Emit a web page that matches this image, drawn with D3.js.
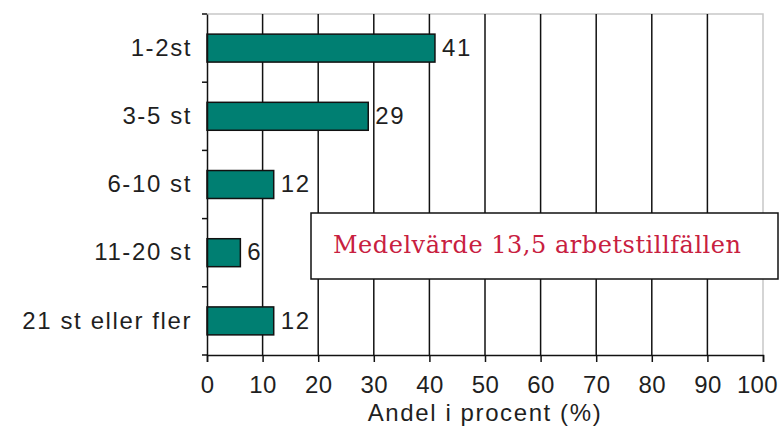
<!DOCTYPE html>
<html>
<head>
<meta charset="utf-8">
<script src="https://cdn.jsdelivr.net/npm/d3@7"></script>
<style>
  body { margin: 0; background: #fff; }
  svg text {
    font-family: "Liberation Sans", Arial, sans-serif;
    font-size: 24px;
    letter-spacing: 1.6px;
    fill: #1f1f1f;
  }
</style>
</head>
<body>
<script>
const categories = ["1-2st", "3-5 st", "6-10 st", "11-20 st", "21 st eller fler"];
const values = [41, 29, 12, 6, 12];
const xTicks = [0, 10, 20, 30, 40, 50, 60, 70, 80, 90, 100];
const noteText = "Medelvärde 13,5 arbetstillfällen";

const w = 784;
const h = 432;
const m = { top: 14, right: 21, bottom: 77, left: 207 };

const svg = d3
  .select("body")
  .append("svg")
  .attr("width", w)
  .attr("height", h);

const x = d3.scaleLinear().domain([0, 100]).range([m.left, w - m.right]);
const y = d3
  .scaleBand()
  .domain(categories)
  .range([m.top, h - m.bottom])
  .paddingInner(0.59)
  .paddingOuter(0.295);

// light frame top/right
svg
  .append("path")
  .attr("d", `M${x(0)},${m.top}H${x(100)}V${h - m.bottom}`)
  .attr("fill", "none")
  .attr("stroke", "#c8c8c8")
  .attr("stroke-width", 1.5);

// gridlines
svg
  .selectAll(".grid")
  .data(xTicks.filter((d) => d > 0 && d < 100))
  .enter()
  .append("line")
  .attr("x1", (d) => x(d))
  .attr("x2", (d) => x(d))
  .attr("y1", m.top)
  .attr("y2", h - m.bottom)
  .attr("stroke", "#111")
  .attr("stroke-width", 1.5);

// bars
svg
  .selectAll(".bar")
  .data(values)
  .enter()
  .append("rect")
  .attr("x", x(0))
  .attr("y", (d, i) => y(categories[i]))
  .attr("width", (d) => x(d) - x(0))
  .attr("height", y.bandwidth())
  .attr("fill", "#007f72")
  .attr("stroke", "#111")
  .attr("stroke-width", 1.5);

// value labels
svg
  .selectAll(".val")
  .data(values)
  .enter()
  .append("text")
  .attr("x", (d) => x(d) + 7)
  .attr("y", (d, i) => y(categories[i]) + y.bandwidth() / 2 - 1)
  .attr("dy", "0.36em")
  .text((d) => d);

// y axis
const yAxis = svg
  .append("g")
  .attr("transform", `translate(${x(0)},0)`)
  .call(d3.axisLeft(y).tickSize(0).tickPadding(15));
yAxis.select(".domain").attr("stroke", "#111").attr("stroke-width", 1.5);
yAxis.selectAll("text").attr("dy", "0.32em");
// boundary ticks between categories
const step = y.step();
svg
  .selectAll(".ytick")
  .data(d3.range(categories.length + 1))
  .enter()
  .append("line")
  .attr("x1", x(0) - 5)
  .attr("x2", x(0))
  .attr("y1", (d) => m.top + d * step)
  .attr("y2", (d) => m.top + d * step)
  .attr("stroke", "#111")
  .attr("stroke-width", 1.5);

// x axis
const xAxis = svg
  .append("g")
  .attr("transform", `translate(0,${h - m.bottom})`)
  .call(d3.axisBottom(x).tickValues(xTicks).tickSize(7).tickPadding(14));
xAxis.select(".domain").attr("stroke", "#111").attr("stroke-width", 1.5);
xAxis.selectAll("line").attr("stroke", "#111").attr("stroke-width", 1.5);
xAxis
  .selectAll("text")
  .style("letter-spacing", "0.4px")
  .attr("x", (d) => (d === 100 ? -6 : 0));

svg
  .append("text")
  .attr("x", 485)
  .attr("y", 421)
  .attr("text-anchor", "middle")
  .text("Andel i procent (%)");

// annotation box
const note = svg.append("g");
note
  .append("rect")
  .attr("x", 311)
  .attr("y", 213)
  .attr("width", 467)
  .attr("height", 66)
  .attr("fill", "#fff")
  .attr("stroke", "#111")
  .attr("stroke-width", 1.5);
note
  .append("text")
  .attr("x", 333)
  .attr("y", 253)
  .attr("textLength", 408)
  .attr("lengthAdjust", "spacing")
  .style("font-family", "'DejaVu Serif', 'Liberation Serif', serif")
  .style("font-size", "24px")
  .style("letter-spacing", "0px")
  .style("fill", "#c8203f")
  .text(noteText);
</script>
</body>
</html>
